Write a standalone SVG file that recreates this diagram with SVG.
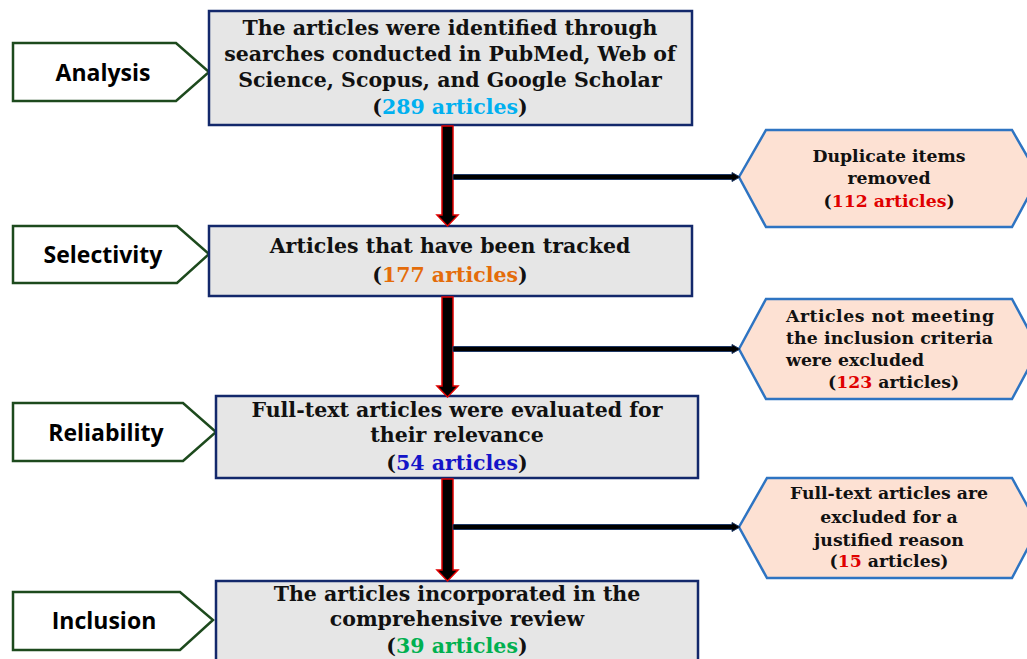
<svg xmlns="http://www.w3.org/2000/svg" width="1027" height="659" viewBox="0 0 1027 659">
<style>
.lbl{fill:#fff;stroke:#1d4a1d;stroke-width:2.5}
.lt{font-family:"Open Sans","Noto Sans",sans-serif;font-weight:bold;font-size:23px;fill:#000;text-anchor:middle}
.box{fill:#e6e6e6;stroke:#13286b;stroke-width:2.5}
.bt{font-family:"DejaVu Serif",serif;font-weight:bold;font-size:20.5px;fill:#111;text-anchor:middle}
.hex{fill:#fde1d3;stroke:#2e74c2;stroke-width:2.5}
.ht{font-family:"DejaVu Serif",serif;font-weight:bold;font-size:17.3px;fill:#111}
.va{fill:#000;stroke:#e00000;stroke-width:1.5}
.ha{fill:#000;stroke:#1f3864;stroke-width:1}
</style>
<rect width="1027" height="659" fill="#fff"/>
<g id="label-analysis"><polygon class="lbl" points="13,43 176,43 209,72 176,101 13,101"/><text class="lt" x="103" y="81">Analysis</text></g>
<g id="label-selectivity"><polygon class="lbl" points="13,226 177,226 209,254 177,283 13,283"/><text class="lt" x="103" y="263">Selectivity</text></g>
<g id="label-reliability"><polygon class="lbl" points="13,403 183,403 216,432 183,461 13,461"/><text class="lt" x="106" y="441">Reliability</text></g>
<g id="label-inclusion"><polygon class="lbl" points="13,592 180,592 213,620 180,650 13,650"/><text class="lt" x="104" y="629">Inclusion</text></g>

<g id="box-identified"><rect class="box" x="209" y="11" width="483" height="114"/>
<text class="bt" x="450" y="35">The articles were identified through</text>
<text class="bt" x="450" y="61">searches conducted in PubMed, Web of</text>
<text class="bt" x="450" y="87">Science, Scopus, and Google Scholar</text>
<text class="bt" x="450" y="114">(<tspan fill="#00b0f0">289 articles</tspan>)</text></g>
<g id="box-tracked"><rect class="box" x="209" y="226" width="483" height="70"/>
<text class="bt" x="450" y="253">Articles that have been tracked</text>
<text class="bt" x="450" y="282">(<tspan fill="#e46c0a">177 articles</tspan>)</text></g>
<g id="box-fulltext"><rect class="box" x="216" y="396" width="482" height="82"/>
<text class="bt" x="457" y="417">Full-text articles were evaluated for</text>
<text class="bt" x="457" y="442">their relevance</text>
<text class="bt" x="457" y="470">(<tspan fill="#1414c8">54 articles</tspan>)</text></g>
<g id="box-included"><rect class="box" x="216" y="581" width="482" height="90"/>
<text class="bt" x="457" y="601">The articles incorporated in the</text>
<text class="bt" x="457" y="626">comprehensive review</text>
<text class="bt" x="457" y="653">(<tspan fill="#00b050">39 articles</tspan>)</text></g>

<g id="hex-duplicates"><polygon class="hex" points="739,177 766,130 1012,130 1039,177 1012,227 766,227"/>
<text class="ht" text-anchor="middle" x="889" y="162">Duplicate items</text>
<text class="ht" text-anchor="middle" x="889" y="184">removed</text>
<text class="ht" text-anchor="middle" x="889" y="207">(<tspan fill="#e00000">112 articles</tspan>)</text></g>
<g id="hex-criteria"><polygon class="hex" points="739,349 766,299 1012,299 1039,349 1012,399 766,399"/>
<text class="ht" x="786" y="322" textLength="208" lengthAdjust="spacing">Articles not meeting</text>
<text class="ht" x="786" y="344" textLength="207" lengthAdjust="spacing">the inclusion criteria</text>
<text class="ht" x="786" y="366">were excluded</text>
<text class="ht" x="828" y="388">(<tspan fill="#e00000">123</tspan> articles)</text></g>
<g id="hex-justified"><polygon class="hex" points="739,527 767,478 1012,478 1039,527 1012,578 767,578"/>
<text class="ht" text-anchor="middle" x="889" y="499">Full-text articles are</text>
<text class="ht" text-anchor="middle" x="889" y="523">excluded for a</text>
<text class="ht" text-anchor="middle" x="889" y="546">justified reason</text>
<text class="ht" text-anchor="middle" x="889" y="567">(<tspan fill="#e00000">15</tspan> articles)</text></g>

<g id="connectors">
<polygon class="va" points="442,126 453,126 453,215 458,215 447.5,226 437,215 442,215"/>
<polygon class="va" points="442,297 453,297 453,386 458,386 447.5,397 437,386 442,386"/>
<polygon class="va" points="442,479 453,479 453,570 458,570 447.5,581 437,570 442,570"/>
<polygon class="ha" points="453,174.5 732,174.5 732,172.5 740,177 732,181.5 732,179.5 453,179.5"/>
<polygon class="ha" points="453,346.5 732,346.5 732,344.5 740,349 732,353.5 732,351.5 453,351.5"/>
<polygon class="ha" points="453,524.5 732,524.5 732,522.5 740,527 732,531.5 732,529.5 453,529.5"/>
</g>
</svg>
